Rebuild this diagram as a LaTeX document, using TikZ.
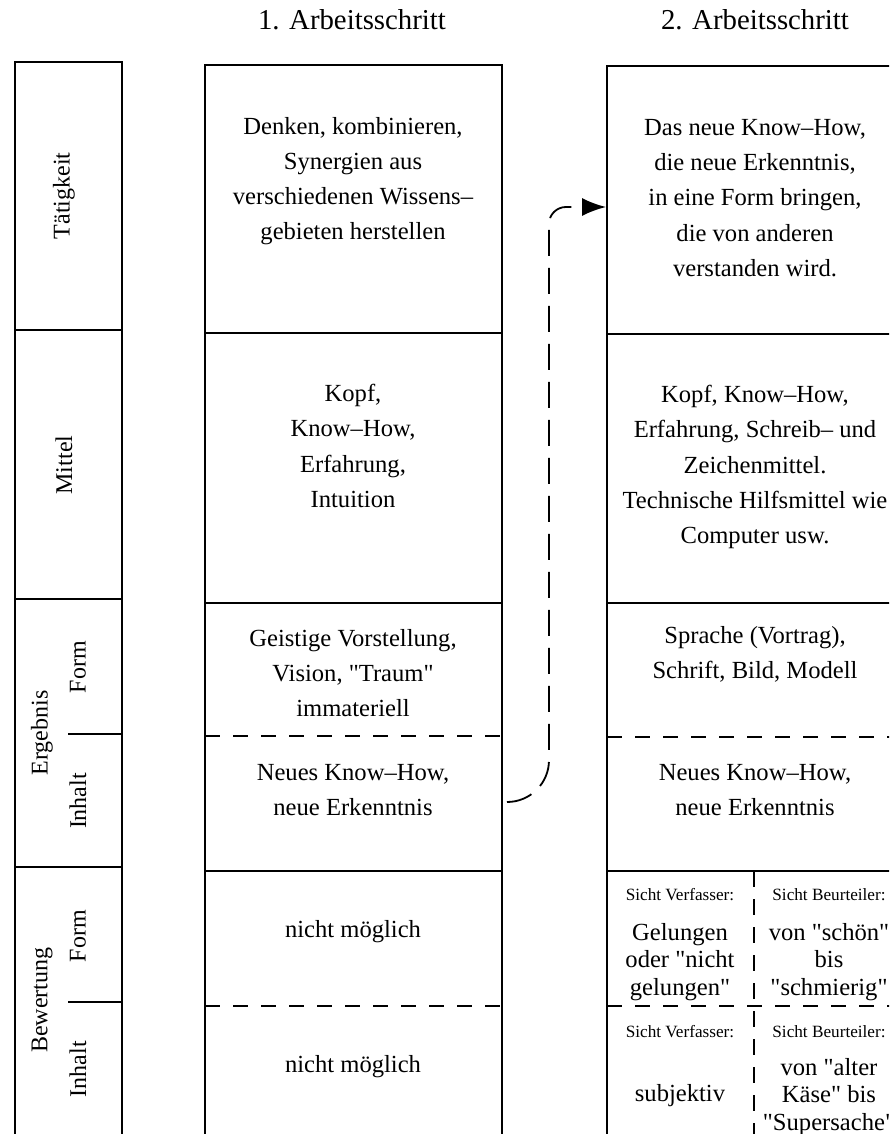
\documentclass[tikz,border=0pt]{standalone}
\usepackage{fontspec}
\setmainfont{Liberation Serif}[Ligatures=TeXOff]
\usetikzlibrary{arrows.meta}
\tikzset{
	x=0.5pt, y=-0.5pt, % one unit is one pixel of the sheet, y runs downwards
	rahmen/.style={line width=0.9pt}, % solid borders of the columns
	trenn/.style={line width=0.9pt, dash pattern=on 7.5pt off 6.5pt}, % dashed Form/Inhalt border
	feld/.style={align=center, inner sep=0pt, font=\fontsize{12.3}{17.6}\selectfont}, % text of a cell
	eng/.style={feld, font=\fontsize{12.3}{13.75}\selectfont}, % tighter text in the Bewertung cells
	sicht/.style={inner sep=0pt, anchor=base, font=\fontsize{8.6}{10}\selectfont}, % small "Sicht ..." labels
	seite/.style={rotate=90, inner sep=0pt, font=\fontsize{12}{14}\selectfont}, % row names on the left
	kopf/.style={inner sep=0pt, anchor=base, font=\fontsize{14.4}{17}\selectfont}, % column titles
	pfeil/.style={line width=0.9pt, dash pattern=on 13pt off 6pt, -{Latex[length=12pt,width=9pt]}}, % dashed arrow
}

\begin{document}
\begin{tikzpicture}
	\useasboundingbox (0,0) rectangle (889,1134);
	\clip (0,0) rectangle (889,1134);

	% column titles
	\node[kopf] (k1) at (352,30) {1. Arbeitsschritt};
	\node[kopf] (k2) at (755,30) {2. Arbeitsschritt};

	% left column: row names
	\draw[rahmen] (15,62) rectangle (122,1170);
	\draw[rahmen] (15,330) -- (122,330) (15,599) -- (122,599) (15,867) -- (122,867);
	\draw[rahmen] (68,734) -- (122,734) (68,1002) -- (122,1002);
	\node[seite] (taet) at (64,196) {Tätigkeit};
	\node[seite] (mitt) at (64,465) {Mittel};
	\node[seite] (erg) at (42,733) {Ergebnis};
	\node[seite] (ergf) at (78,667) {Form};
	\node[seite] (ergi) at (78,801) {Inhalt};
	\node[seite] (bew) at (42,1000) {Bewertung};
	\node[seite] (bewf) at (78,936) {Form};
	\node[seite] (bewi) at (78,1069) {Inhalt};

	% middle column: 1. Arbeitsschritt
	\draw[rahmen] (205,65) rectangle (502,1170);
	\draw[rahmen] (205,333) -- (502,333) (205,603) -- (502,603) (205,871) -- (502,871);
	\draw[trenn] (205,736) -- (502,736) (205,1006) -- (502,1006);
	\node[feld] (a1) at (353,181) {Denken, kombinieren,\\Synergien aus\\verschiedenen Wissens–\\gebieten herstellen};
	\node[feld] (a2) at (353,446) {Kopf,\\Know–How,\\Erfahrung,\\Intuition};
	\node[feld] (a3) at (353,673) {Geistige Vorstellung,\\Vision, "Traum"\\immateriell};
	\node[feld] (a4) at (353,790) {Neues Know–How,\\neue Erkenntnis};
	\node[feld] (a5) at (353,932) {nicht möglich};
	\node[feld] (a6) at (353,1067) {nicht möglich};

	% right column: 2. Arbeitsschritt
	\draw[rahmen] (607,66) rectangle (904,1170);
	\draw[rahmen] (607,334) -- (904,334) (607,603) -- (904,603) (607,871) -- (904,871);
	\draw[trenn] (607,737) -- (904,737) (607,1006) -- (904,1006);
	\draw[line width=0.9pt, dash pattern=on 8pt off 6pt] (754,871) -- (754,1170);
	\node[feld] (b1) at (755,198) {Das neue Know–How,\\die neue Erkenntnis,\\in eine Form bringen,\\die von anderen\\verstanden wird.};
	\node[feld] (b2) at (755,467) {Kopf, Know–How,\\Erfahrung, Schreib– und\\Zeichenmittel.\\Technische Hilfsmittel wie\\Computer usw.};
	\node[feld] (b3) at (755,654) {Sprache (Vortrag),\\Schrift, Bild, Modell};
	\node[feld] (b4) at (755,790) {Neues Know–How,\\neue Erkenntnis};

	% Bewertung, split in Verfasser and Beurteiler
	\node[sicht] (v1) at (680,900) {Sicht Verfasser:};
	\node[sicht] (u1) at (829,900) {Sicht Beurteiler:};
	\node[eng] (v2) at (680,962) {Gelungen\\oder "nicht\\gelungen"};
	\node[eng] (u2) at (829,962) {von "schön"\\bis\\"schmierig"};
	\node[sicht] (v3) at (680,1037) {Sicht Verfasser:};
	\node[sicht] (u3) at (829,1037) {Sicht Beurteiler:};
	\node[eng] (v4) at (680,1096) {subjektiv};
	\node[eng] (u4) at (829,1097) {von "alter\\Käse" bis\\"Supersache"};

	% dashed arrow from the new know-how to the second step
	\coordinate (ab) at (507,802);
	\coordinate (an) at (606,207);
	\draw[pfeil] (ab) to[out=0,in=-90] (549,760) -- (549,224) to[out=90,in=180] (566,207) -- (an);
\end{tikzpicture}
\end{document}
